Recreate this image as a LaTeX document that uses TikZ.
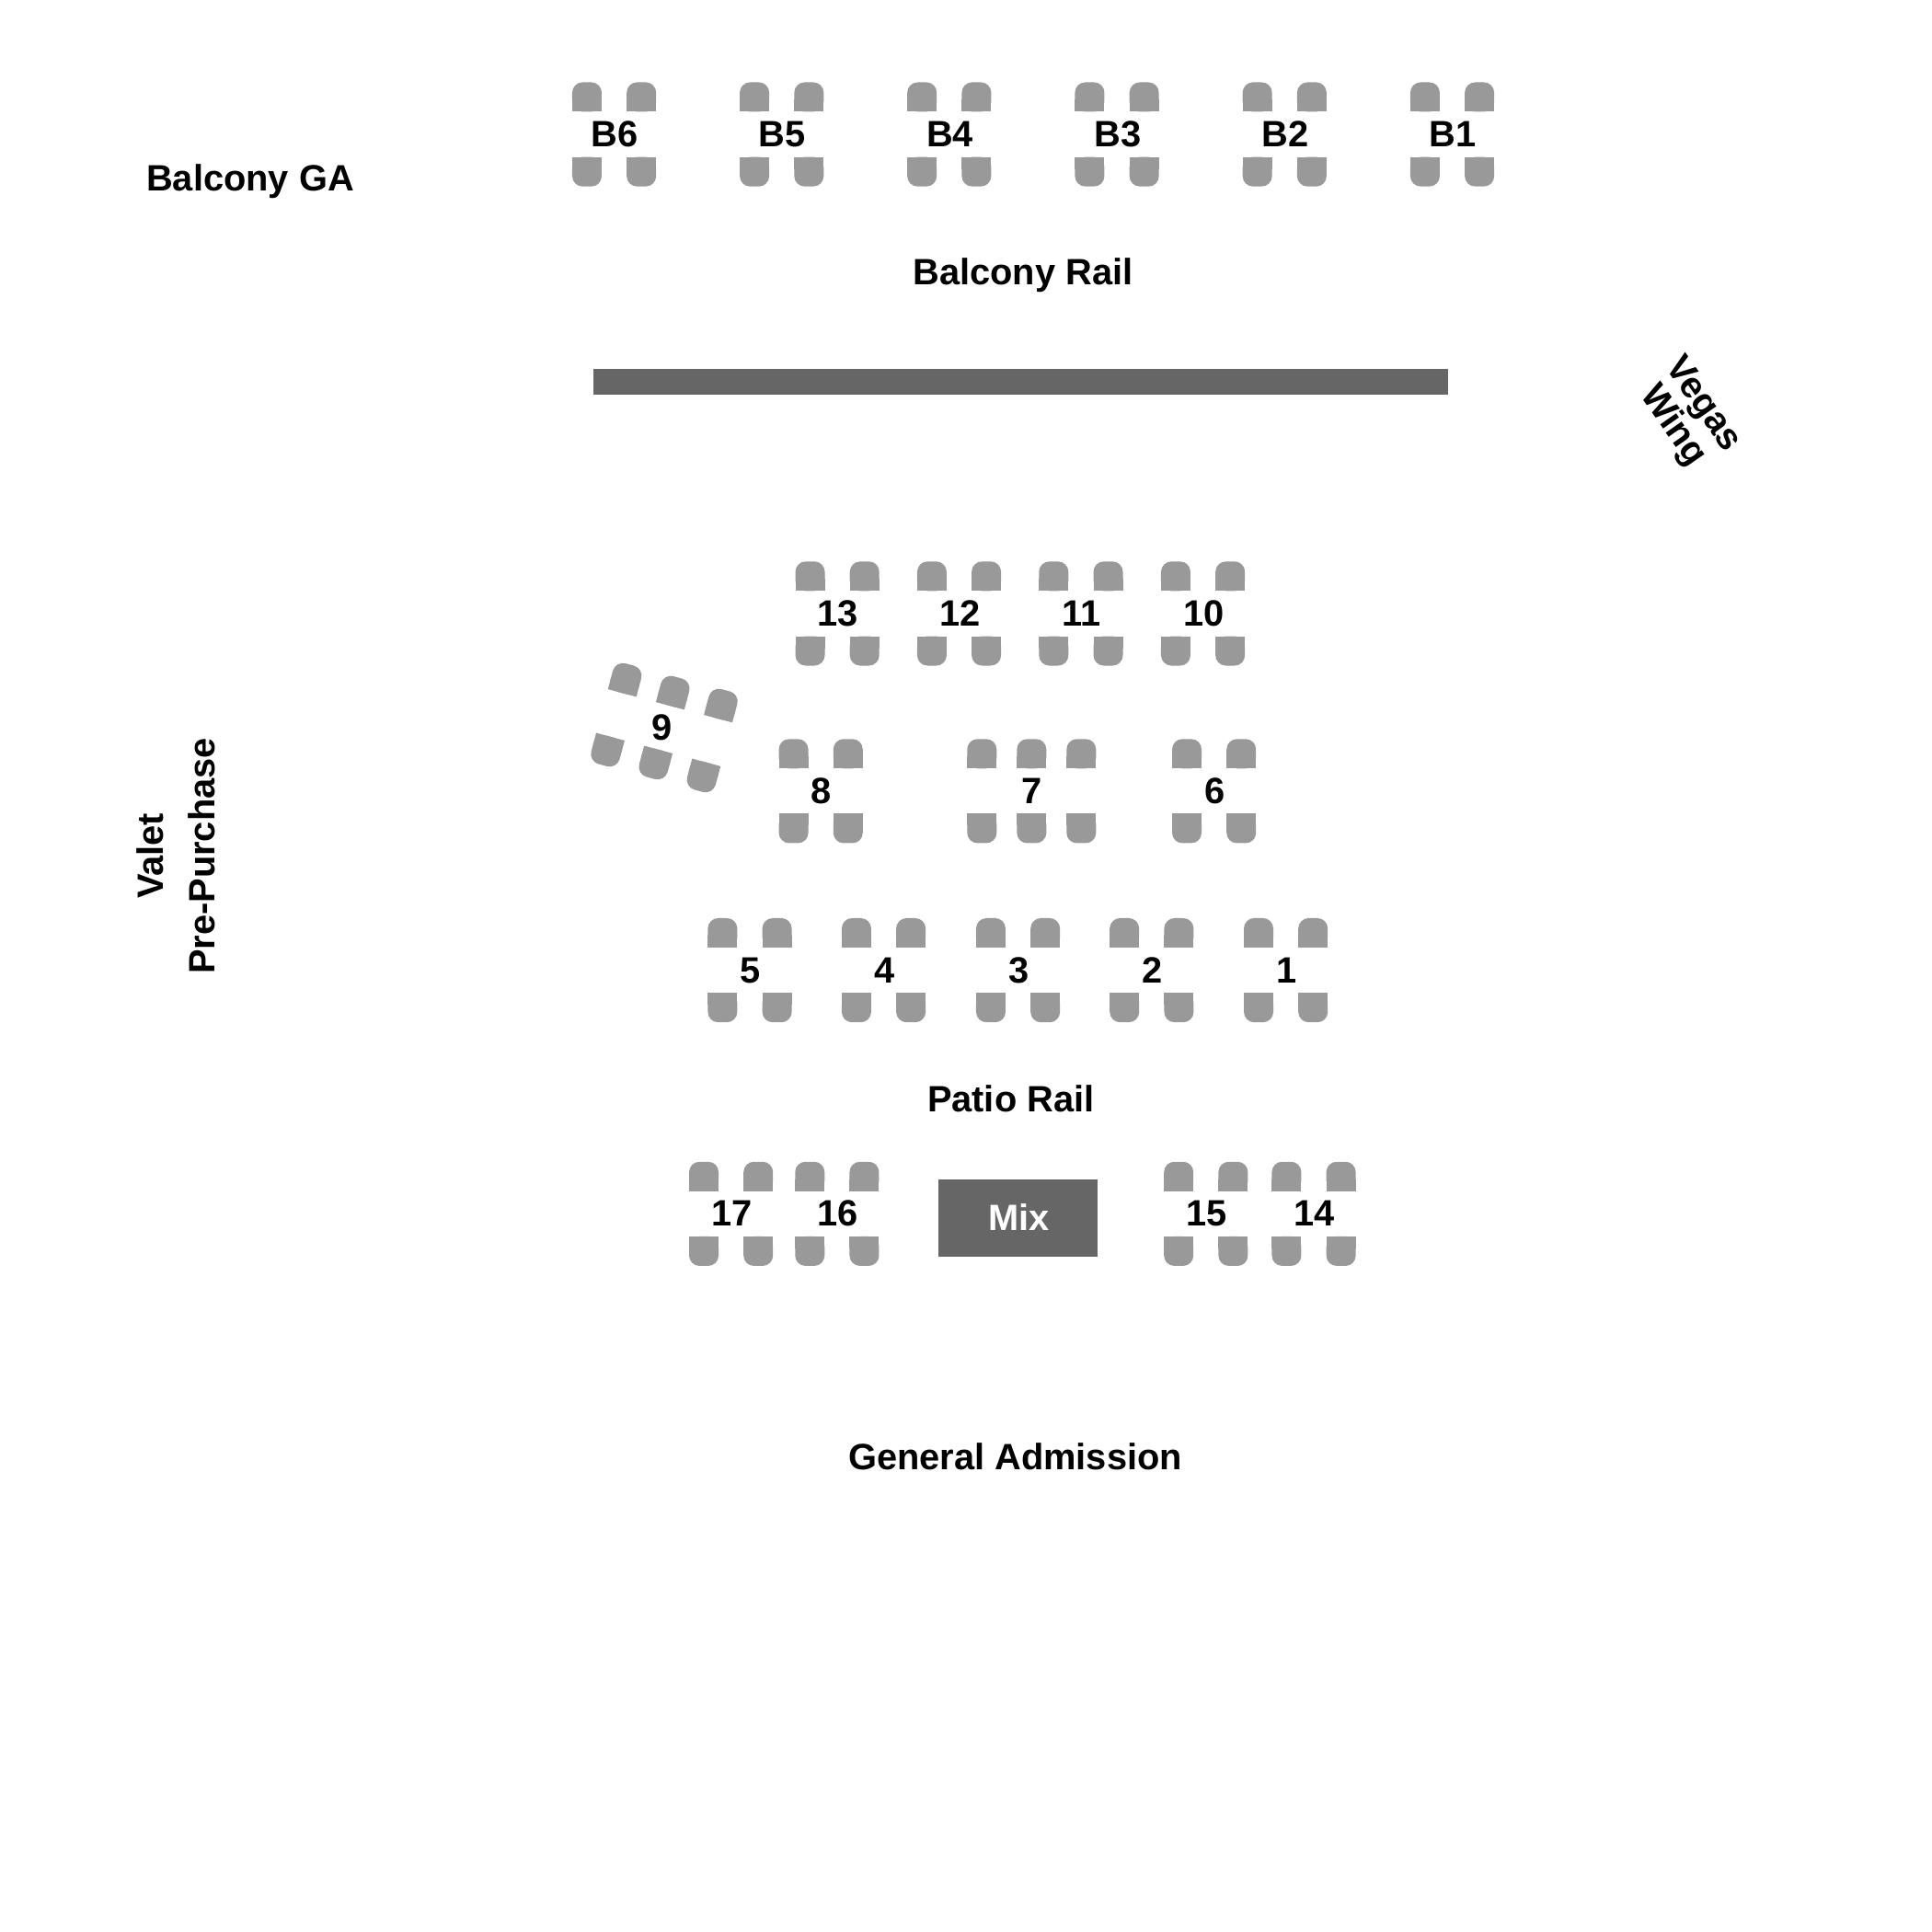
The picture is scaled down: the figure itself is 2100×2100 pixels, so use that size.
\documentclass[tikz,border=0pt]{standalone}
\usepackage{fontspec}
\setmainfont{Liberation Sans}
\definecolor{seatgrey}{HTML}{999999}
\definecolor{bargrey}{HTML}{666666}
\tikzset{
  x=0.01cm,y=-0.01cm,
  seatpic/.pic={
    \fill[seatgrey,rounded corners=3.2pt] (-16,0) rectangle (16,-32);
    \fill[seatgrey] (-16,-13) rectangle (16,0);
  },
  lbl/.style={font=\bfseries\fontsize{11.32}{15.9}\selectfont,inner sep=0pt,text=black},
  tablenum/.style={lbl,anchor=base},
  bar/.style={fill=bargrey,draw=none},
}
% name, centre x, centre y (in 1/1.34 px), label, seat offsets
\newcommand\seattable[5]{%
  \foreach \sx in {#5}{%
    \pic at ({1.34*#2+\sx},{1.34*#3-24.6}) {seatpic};
    \pic[rotate=180] at ({1.34*#2+\sx},{1.34*#3+24.6}) {seatpic};
  }%
  \node[tablenum] (#1) at ({1.34*#2+0.7},{1.34*#3+13.6}) {#4};
}
\begin{document}
\begin{tikzpicture}
\useasboundingbox (0,0) rectangle (2100,2100);
\fill[white] (0,0) rectangle (2100,2100);
% balcony
\seattable{tb6}{498.2}{109}{B6}{-29.6,29.6}
\seattable{tb5}{634.1}{109}{B5}{-29.6,29.6}
\seattable{tb4}{770}{109}{B4}{-29.6,29.6}
\seattable{tb3}{906}{109}{B3}{-29.6,29.6}
\seattable{tb2}{1042}{109}{B2}{-29.6,29.6}
\seattable{tb1}{1178}{109}{B1}{-29.6,29.6}
% floor rows
\seattable{t13}{679.2}{497.7}{13}{-29.6,29.6}
\seattable{t12}{778}{497.7}{12}{-29.6,29.6}
\seattable{t11}{876.8}{497.7}{11}{-29.6,29.6}
\seattable{t10}{975.8}{497.7}{10}{-29.6,29.6}
\seattable{t8}{665.8}{641.7}{8}{-29.6,29.6}
\seattable{t7}{836.8}{641.7}{7}{-54,0,54}
\seattable{t6}{984.8}{641.7}{6}{-29.6,29.6}
\seattable{t5}{608.2}{787}{5}{-29.6,29.6}
\seattable{t4}{716.8}{787}{4}{-29.6,29.6}
\seattable{t3}{825.8}{787}{3}{-29.6,29.6}
\seattable{t2}{934.2}{787}{2}{-29.6,29.6}
\seattable{t1}{1043}{787}{1}{-29.6,29.6}
\seattable{t17}{593}{984.6}{17}{-29.6,29.6}
\seattable{t16}{679}{984.6}{16}{-29.6,29.6}
\seattable{t15}{978.2}{984.6}{15}{-29.6,29.6}
\seattable{t14}{1065.7}{984.6}{14}{-29.6,29.6}
% table 9, turned
\begin{scope}[shift={(722,791)},rotate=-15]
  \foreach \sx in {-54,0,54}{
    \pic[rotate=-15] at (\sx,-24.6) {seatpic};
    \pic[rotate=165] at (\sx,24.6) {seatpic};
  }
\end{scope}
\node[tablenum] (t9) at (719.6,804.6) {9};
% bars
\fill[bar] (645,401) rectangle (1574,429);
\node[bar,minimum width=173*0.01cm,minimum height=84*0.01cm,inner sep=0pt] (mix) at (1106.8,1324.3) {};
\node[lbl,text=white,anchor=base] (mixlabel) at (1107.5,1337) {Mix};
% labels
\node[lbl,anchor=base] (balconyga) at (272,207.3) {Balcony GA};
\node[lbl,anchor=base] (balconyrail) at (1112,309) {Balcony Rail};
\node[lbl,anchor=base] (patiorail) at (1098.7,1208) {Patio Rail};
\node[lbl,anchor=base] (ga) at (1103.5,1597) {General Admission};
\node[lbl,align=center,rotate=90] (valet) at (191,930.5) {Valet\\Pre-Purchase};
\node[align=center,rotate=-55,inner sep=0pt,font=\bfseries\fontsize{11.32}{11.4}\selectfont] (vegas) at (1834,452) {Vegas\\Wing};
\end{tikzpicture}
\end{document}
